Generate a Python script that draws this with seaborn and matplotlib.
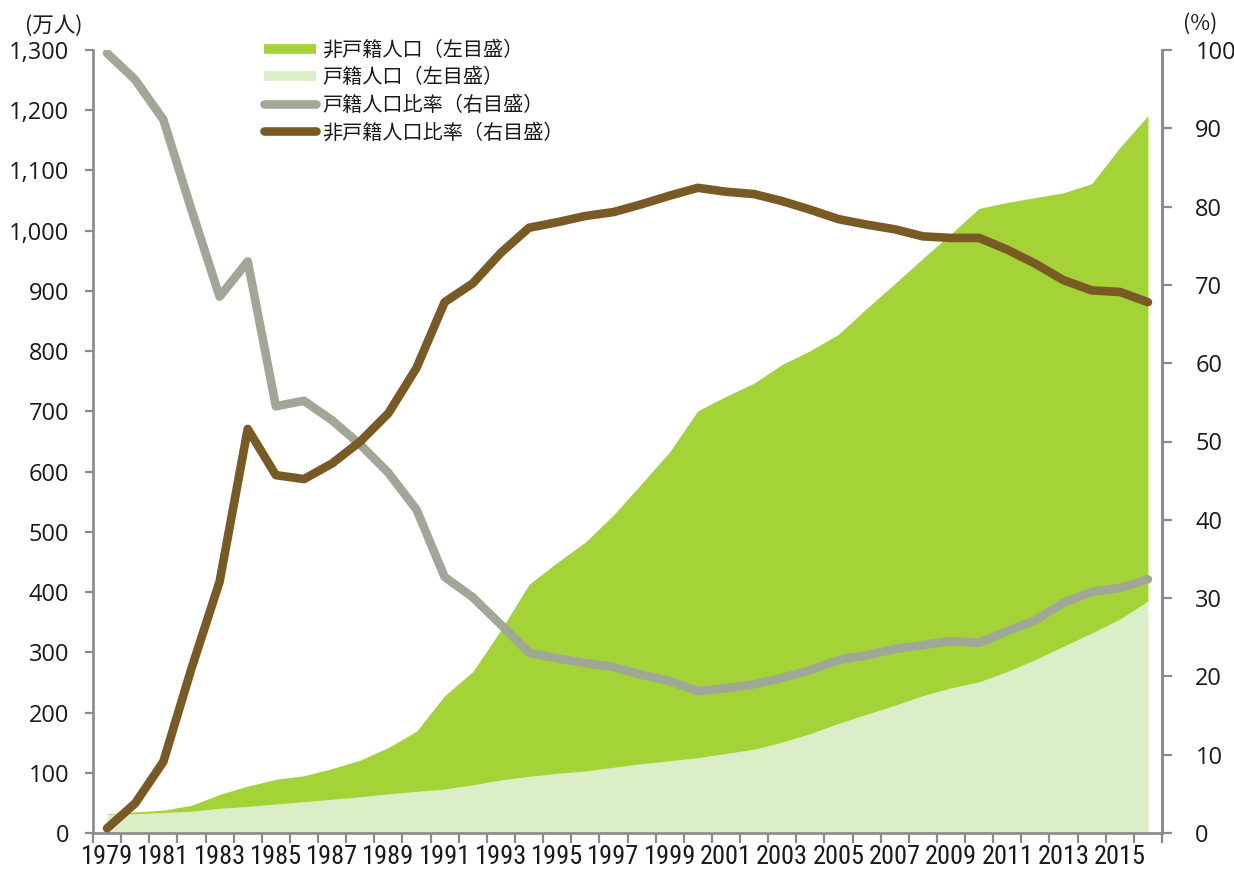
import numpy as np
import matplotlib
matplotlib.use("Agg")
import matplotlib.pyplot as plt
from matplotlib.lines import Line2D
from matplotlib import font_manager as fm
from matplotlib.ticker import FuncFormatter
import seaborn as sns

years = list(range(1979, 2017))
hukou = [31, 32, 34, 36, 41, 44, 48, 52, 56, 60, 65, 69, 73, 80, 88, 94, 99, 103, 109, 115,
         120, 125, 132, 139, 151, 165, 182, 197, 212, 228, 241, 251, 268, 288, 310, 332, 355, 385]
non_hukou = [1, 3, 4, 10, 23, 34, 41, 43, 51, 61, 77, 100, 155, 188, 249, 319, 350, 380, 419, 465,
             513, 576, 593, 608, 627, 636, 646, 674, 700, 726, 754, 786, 779, 767, 753, 746, 783, 806]
hukou_ratio = [99.6, 96.2, 91.1, 79.6, 68.5, 73.0, 54.5, 55.2, 52.7, 49.6, 46.0, 41.3, 32.7, 30.1,
               26.6, 23.0, 22.3, 21.7, 21.2, 20.2, 19.4, 18.1, 18.5, 19.0, 19.8, 20.8, 22.1, 22.7,
               23.5, 24.0, 24.5, 24.3, 25.8, 27.2, 29.4, 30.8, 31.3, 32.4]
non_hukou_ratio = [0.6, 3.8, 9.1, 21.0, 32.1, 51.6, 45.7, 45.2, 47.2, 50.0, 53.6, 59.4, 67.8, 70.2,
                   74.1, 77.3, 78.0, 78.8, 79.3, 80.3, 81.4, 82.4, 81.9, 81.6, 80.7, 79.6, 78.4, 77.7,
                   77.1, 76.2, 76.0, 76.0, 74.5, 72.7, 70.6, 69.3, 69.1, 67.8]
left_ticks = list(range(0, 1301, 100))
right_ticks = list(range(0, 101, 10))
xlabel_years = list(range(1979, 2016, 2))
legend_labels = ["非戸籍人口（左目盛）", "戸籍人口（左目盛）", "戸籍人口比率（右目盛）", "非戸籍人口比率（右目盛）"]

C_BRIGHT = "#A3D336"
C_LIGHT = "#DAEEC7"
C_GRAY = "#A0A797"
C_BROWN = "#7A5A24"
C_AXIS = "#8A8A8A"

sns.set_theme(style="white")
names = {f.name for f in fm.fontManager.ttflist}
NUMF = "Open Sans" if "Open Sans" in names else "DejaVu Sans"
CJK = ["Noto Sans CJK JP", "DejaVu Sans"]
plt.rcParams["font.family"] = CJK

# look for a condensed / narrow face for the year labels
xfp = None
cands = []
for f in fm.fontManager.ttflist:
    fn = f.fname.lower()
    if ("condensed" in fn or "narrow" in fn or str(f.stretch) in ("condensed", "semi-condensed", "extra-condensed")) \
            and "bold" not in fn and "italic" not in fn and "oblique" not in fn:
        cands.append(f)
pref = ["liberationsansnarrow", "robotocondensed", "opensans_condensed", "opensanscondensed", "dejavusanscondensed"]
cands.sort(key=lambda f: next((i for i, p in enumerate(pref) if p in f.fname.lower().replace("-", "").replace("_", "")), 99))
if cands:
    xfp = fm.FontProperties(fname=cands[0].fname, size=19)
    if "dejavu" in cands[0].fname.lower():
        xfp.set_size(16.5)
else:
    xfp = fm.FontProperties(family="DejaVu Sans", size=14.5)

W, H = 1234, 873
fig = plt.figure(figsize=(W / 100, H / 100), dpi=100)
L, R, T, B = 93, 1162, 50, 833
ax = fig.add_axes([L / W, (H - B) / H, (R - L) / W, (B - T) / H])

yrs = np.array(years)
hk = np.array(hukou)
nh = np.array(non_hukou)
ax.fill_between(yrs, 0, hk, color=C_LIGHT, lw=0)
ax.fill_between(yrs, hk, hk + nh, color=C_BRIGHT, lw=0)
ax.set_xlim(1978.5, 2016.5)
ax.set_ylim(0, 1300)

ax2 = ax.twinx()
ax2.set_ylim(0, 100)
sns.lineplot(x=years, y=hukou_ratio, ax=ax2, color=C_GRAY, lw=6.2, legend=False)
sns.lineplot(x=years, y=non_hukou_ratio, ax=ax2, color=C_BROWN, lw=6.2, legend=False)
for ln in ax2.lines:
    ln.set_solid_capstyle("round")
    ln.set_solid_joinstyle("round")

for a in (ax, ax2):
    a.set_xlabel("")
    a.set_ylabel("")
    a.grid(False)
    for s in a.spines.values():
        s.set_color(C_AXIS)
        s.set_linewidth(1.9)
    a.spines["top"].set_visible(False)

ax.set_xticks(np.arange(1978.5, 2017, 1.0))
ax.set_xticklabels([])
ax.set_xticks(xlabel_years, minor=True)
ax.set_xticklabels([str(y) for y in xlabel_years], minor=True, fontproperties=xfp, color="#1a1a1a")
ax.tick_params(axis="x", which="major", direction="out", length=7, width=1.6, color=C_AXIS, bottom=True)
ax.tick_params(axis="x", which="minor", length=0, pad=9, bottom=True)

ax.set_yticks(left_ticks)
ax.yaxis.set_major_formatter(FuncFormatter(lambda v, p: f"{int(v):,}"))
ax.tick_params(axis="y", which="major", direction="out", length=6, width=1.6, color=C_AXIS,
               left=True, pad=11, labelsize=17, labelcolor="#1a1a1a")
for t in ax.get_yticklabels():
    t.set_family(NUMF)

ax2.set_yticks(right_ticks)
ax2.tick_params(axis="y", which="major", direction="out", length=7, width=1.6, color=C_AXIS,
                right=True, pad=17, labelsize=17, labelcolor="#1a1a1a")
for t in ax2.get_yticklabels():
    t.set_family(NUMF)
ax2.spines["left"].set_visible(False)
ax2.spines["bottom"].set_visible(False)

fig.text(54 / W, 1 - 26 / H, "(万人)", ha="center", va="center", fontsize=15.5, family=CJK, color="#1a1a1a")
fig.text(1200 / W, 1 - 24 / H, "(%)", ha="center", va="center", fontsize=15.5, family=CJK, color="#1a1a1a")

handles = [
    Line2D([0], [0], color=C_BRIGHT, lw=7, solid_capstyle="butt"),
    Line2D([0], [0], color=C_LIGHT, lw=7, solid_capstyle="butt"),
    Line2D([0], [0], color=C_GRAY, lw=6.2, solid_capstyle="round"),
    Line2D([0], [0], color=C_BROWN, lw=6.2, solid_capstyle="round"),
]
leg = ax2.legend(handles, legend_labels, loc="upper left",
                 bbox_to_anchor=(264 / W, 1 - 40 / H), bbox_transform=fig.transFigure,
                 frameon=False, borderpad=0, borderaxespad=0, handlelength=2.6,
                 handletextpad=0.3, labelspacing=0.32, prop={"family": CJK, "size": 14.5})
for t in leg.get_texts():
    t.set_color("#1a1a1a")

fig.savefig("out.png", dpi=100)
